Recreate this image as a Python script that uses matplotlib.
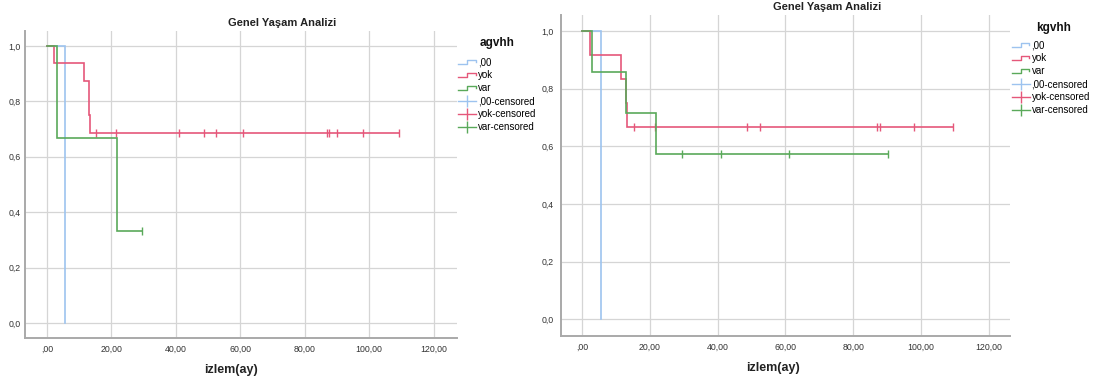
import numpy as np
import matplotlib
matplotlib.use("Agg")
import matplotlib.pyplot as plt
from matplotlib.lines import Line2D
from matplotlib.legend_handler import HandlerBase

plt.rcParams["font.family"] = ["Liberation Sans", "DejaVu Sans"]

# ---- data: follow-up times (months) per group, events and censored ----
group_labels = [",00", "yok", "var"]
group_colors = ["#9dc3ef", "#e5577a", "#5aa95a"]

# agvhh
agvhh_00_events = [5.6]
agvhh_00_censored = []
agvhh_yok_events = [2.2, 11.5, 13.0, 13.1, 13.3]
agvhh_yok_censored = [15.2, 21.4, 40.9, 48.7, 52.4, 61.0, 86.9, 87.7, 90.2, 98.0, 109.2]
agvhh_var_events = [3.0, 21.9]
agvhh_var_censored = [29.5]

# kgvhh
kgvhh_00_events = [5.6]
kgvhh_00_censored = []
kgvhh_yok_events = [2.2, 11.5, 13.0, 13.3]
kgvhh_yok_censored = [15.3, 21.4, 48.8, 52.5, 87.1, 87.9, 98.1, 109.4]
kgvhh_var_events = [3.0, 13.1, 21.9]
kgvhh_var_censored = [29.4, 40.9, 61.1, 90.3]

x_ticks = [0, 20, 40, 60, 80, 100, 120]
y_ticks = [0.0, 0.2, 0.4, 0.6, 0.8, 1.0]

panel_title = "Genel Yaşam Analizi"
x_title = "izlem(ay)"


def km_steps(events, censored):
    """Kaplan-Meier step curve plus censor mark positions."""
    times = sorted(set(events) | set(censored))
    n = len(events) + len(censored)
    s = 1.0
    xs, ys = [0.0], [1.0]
    cx, cy = [], []
    for t in times:
        d = events.count(t)
        c = censored.count(t)
        if d:
            s_new = s * (1 - d / n)
            xs += [t, t]
            ys += [s, s_new]
            s = s_new
        if c:
            cx.append(t)
            cy.append(s)
        n -= d + c
    if xs[-1] < times[-1]:
        xs.append(times[-1])
        ys.append(s)
    return xs, ys, cx, cy


class StepHandler(HandlerBase):
    def create_artists(self, legend, orig_handle, xdescent, ydescent,
                       width, height, fontsize, trans):
        xs = np.array([0.0, 0.5, 0.5, 0.95, 0.95]) * width - xdescent
        ys = np.array([0.2, 0.2, 0.85, 0.85, 0.45]) * height - ydescent
        ln = Line2D(xs, ys, color=orig_handle.get_color(),
                    lw=orig_handle.get_linewidth())
        ln.set_transform(trans)
        return [ln]


def fmt_x(v):
    s = f"{v:.2f}".replace(".", ",")
    return s[1:] if s.startswith("0,") else s


W, H = 1102, 385
fig = plt.figure(figsize=(W / 100, H / 100), dpi=100)
fig.patch.set_facecolor("white")

panels = [
    dict(name="agvhh",
         groups=[(agvhh_00_events, agvhh_00_censored),
                 (agvhh_yok_events, agvhh_yok_censored),
                 (agvhh_var_events, agvhh_var_censored)],
         box=(25, 31, 456.7, 338.3), xlim=(-6.8, 127.2), ylim=(-0.055, 1.054),
         title_xy=(282, 22.7), xlab_xy=(231, 370),
         leg_xy=(458, 57.5), leg_title_xy=(497.5, 43.3), ypad=3),
    dict(name="kgvhh",
         groups=[(kgvhh_00_events, kgvhh_00_censored),
                 (kgvhh_yok_events, kgvhh_yok_censored),
                 (kgvhh_var_events, kgvhh_var_censored)],
         box=(560.7, 15, 1010, 335.7), xlim=(-6.3, 126.3), ylim=(-0.057, 1.055),
         title_xy=(826.7, 6.5), xlab_xy=(773.3, 368.3),
         leg_xy=(1011.7, 40.5), leg_title_xy=(1054, 28.3), ypad=5),
]

for p in panels:
    l, t, r, b = p["box"]
    ax = fig.add_axes([l / W, 1 - b / H, (r - l) / W, (b - t) / H])
    ax.set_xlim(*p["xlim"])
    ax.set_ylim(*p["ylim"])
    ax.set_xticks(x_ticks)
    ax.set_xticklabels([fmt_x(v) for v in x_ticks])
    ax.set_yticks(y_ticks)
    ax.set_yticklabels([f"{v:.1f}".replace(".", ",") for v in y_ticks])
    ax.tick_params(axis="both", length=0, labelsize=6.3, colors="#333333")
    ax.tick_params(axis="x", pad=5)
    ax.tick_params(axis="y", pad=p["ypad"])
    for side in ("top", "right"):
        ax.spines[side].set_visible(False)
    for side in ("left", "bottom"):
        ax.spines[side].set_color("#a9a9a9")
        ax.spines[side].set_linewidth(1.4)
    ax.grid(True, color="#d5d5d5", lw=0.9)
    ax.set_axisbelow(True)

    for (ev, ce), col in zip(p["groups"], group_colors):
        xs, ys, cx, cy = km_steps(ev, ce)
        ax.plot(xs, ys, color=col, lw=1.2, solid_joinstyle="miter")
        if cx:
            ax.plot(cx, cy, ls="none", marker="|", ms=6, mew=1.0, color=col)

    step_h = [Line2D([], [], color=c, lw=1.0) for c in group_colors]
    cens_h = [Line2D([], [], color=c, lw=1.0, marker="|", ms=9, mew=1.0)
              for c in group_colors]
    labels = group_labels + [g + "-censored" for g in group_labels]
    lx, ly = p["leg_xy"]
    fig.legend(step_h + cens_h, labels,
               loc="upper left", bbox_to_anchor=(lx / W, 1 - ly / H),
               frameon=False, fontsize=7, numpoints=1,
               handlelength=1.9, handletextpad=0.15, labelspacing=0.3,
               borderpad=0, borderaxespad=0,
               handler_map={h: StepHandler() for h in step_h})
    ltx, lty = p["leg_title_xy"]
    fig.text(ltx / W, 1 - lty / H, p["name"], ha="center", va="center",
             fontsize=8.5, weight="bold", color="#111111")

    tx, ty = p["title_xy"]
    fig.text(tx / W, 1 - ty / H, panel_title, ha="center", va="center",
             fontsize=8, weight="bold", color="#222222")
    xx, xy = p["xlab_xy"]
    fig.text(xx / W, 1 - xy / H, x_title, ha="center", va="center",
             fontsize=9, weight="bold", color="#222222")

fig.savefig("out.png", dpi=100, facecolor="white")
